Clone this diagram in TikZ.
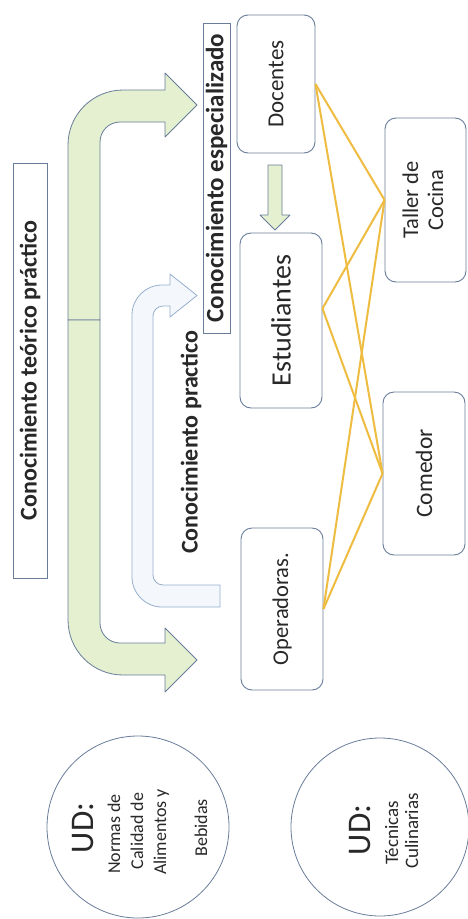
\documentclass[tikz,border=0pt]{standalone}
\usepackage{fontspec}
\setmainfont{Carlito}
\usetikzlibrary{calc}
\definecolor{bord}{RGB}{105,125,155}
\definecolor{greenfill}{RGB}{228,240,208}
\definecolor{bluefill}{RGB}{244,248,253}
\definecolor{blueline}{RGB}{150,175,205}
\definecolor{gold}{RGB}{238,188,64}
\definecolor{txt}{RGB}{40,40,40}
\begin{document}
\begin{tikzpicture}[x=1pt,y=-1pt,
  rbox/.style={draw=bord, line width=0.9pt, rounded corners=11pt, fill=white, text=txt, inner sep=0pt},
  lbl/.style={draw=bord, line width=0.8pt, fill=white, text=txt, inner sep=0pt},
  circ/.style={draw=bord, line width=0.8pt, circle, fill=white, inner sep=0pt},
  ctext/.style={rotate=90, anchor=base, text=txt, inner sep=0pt},
  link/.style={draw=gold, line width=2pt},
  garrow/.style={draw=bord, line width=0.8pt, fill=greenfill, line join=round},
  barrow/.style={draw=blueline, line width=0.8pt, fill=bluefill, line join=round}]
\useasboundingbox (0,0) rectangle (467,919);
\fill[white] (0,0) rectangle (467,919);

% big green bent arrows
\path[garrow] (68,320) [rounded corners=55pt]-- (68,90) [sharp corners]-- (165,90) -- (165,73) -- (197,105) -- (165,137) -- (165,122) [rounded corners=20pt]-- (100,122) [sharp corners]-- (100,320) -- cycle;
\path[garrow] (68,320) [rounded corners=55pt]-- (68,675) [sharp corners]-- (165,675) -- (165,692) -- (197,660) -- (165,628) -- (165,643) [rounded corners=20pt]-- (100,643) [sharp corners]-- (100,320) -- cycle;

% small light blue bent arrow
\path[barrow] (220,607) [rounded corners=30pt]-- (132,607) -- (132,285) [sharp corners]-- (170,285) -- (170,274) -- (197,295.5) -- (170,317) -- (170,306) [rounded corners=10pt]-- (153,306) -- (153,585) [sharp corners]-- (220,585) -- cycle;

% labels
\node[lbl, minimum width=34pt, minimum height=415pt] (teo) at (30,370.5)
  {\rotatebox{90}{\fontsize{24}{27}\selectfont\bfseries Conocimiento teórico práctico}};
\node[lbl, minimum width=27pt, minimum height=310pt] (esp) at (216.5,178)
  {\rotatebox{90}{\fontsize{25}{27}\selectfont\bfseries Conocimiento especializado}};
\node[text=txt, inner sep=0pt] (pra) at (191,442)
  {\rotatebox{90}{\fontsize{24}{27}\selectfont\bfseries Conocimiento practico}};

% boxes
\node[rbox, minimum width=78pt, minimum height=138pt] (doc) at (276,84)
  {\rotatebox{90}{\fontsize{23}{27}\selectfont Docentes}};
\node[rbox, minimum width=82pt, minimum height=175pt] (est) at (281,320.5)
  {\rotatebox{90}{\fontsize{28}{32}\selectfont Estudiantes}};
\node[rbox, minimum width=82pt, minimum height=162pt] (ope) at (282,609)
  {\rotatebox{90}{\fontsize{22.5}{27}\selectfont Operadoras.}};
\node[rbox, minimum width=81pt, minimum height=164pt] (tal) at (425.5,200)
  {\rotatebox{90}{\fontsize{22.5}{25}\selectfont\begin{tabular}{@{}c@{}}Taller de\\Cocina\end{tabular}}};
\node[rbox, minimum width=82pt, minimum height=163pt] (com) at (424,473.5)
  {\rotatebox{90}{\fontsize{23.5}{27}\selectfont Comedor}};

% green down arrow docentes -> estudiantes
\path[garrow] (268,165) -- (282,165) -- (282,215) -- (290,215) -- (275,230) -- (260,215) -- (268,215) -- cycle;

% links
\coordinate (estR) at ($(est.east)+(0,-12)$);
\draw[link] (doc.east) -- (tal.west);
\draw[link] (doc.east) -- (com.west);
\draw[link] (estR) -- (tal.west);
\draw[link] (estR) -- (com.west);
\draw[link] (ope.east) -- (tal.west);
\draw[link] (ope.east) -- (com.west);

% circles
\node[circ, minimum size=182pt] (ud1) at (138,827) {};
\node[ctext, font=\fontsize{33}{36}\selectfont] (ud1a) at (93,828) {UD:};
\node[ctext, font=\fontsize{18}{22}\selectfont] (ud1b) at (120,834) {Normas de};
\node[ctext, font=\fontsize{18}{22}\selectfont] (ud1c) at (143,831) {Calidad de};
\node[ctext, font=\fontsize{18}{22}\selectfont] (ud1d) at (166,832) {Alimentos y};
\node[ctext, font=\fontsize{18}{22}\selectfont] (ud1e) at (207,828) {Bebidas};

\node[circ, minimum size=178pt] (ud2) at (380,827) {};
\node[ctext, font=\fontsize{33}{36}\selectfont] (ud2a) at (370,830) {UD:};
\node[ctext, font=\fontsize{19}{22}\selectfont] (ud2b) at (398,833) {Técnicas};
\node[ctext, font=\fontsize{19}{22}\selectfont] (ud2c) at (418,831) {Culinarias};
\end{tikzpicture}
\end{document}
